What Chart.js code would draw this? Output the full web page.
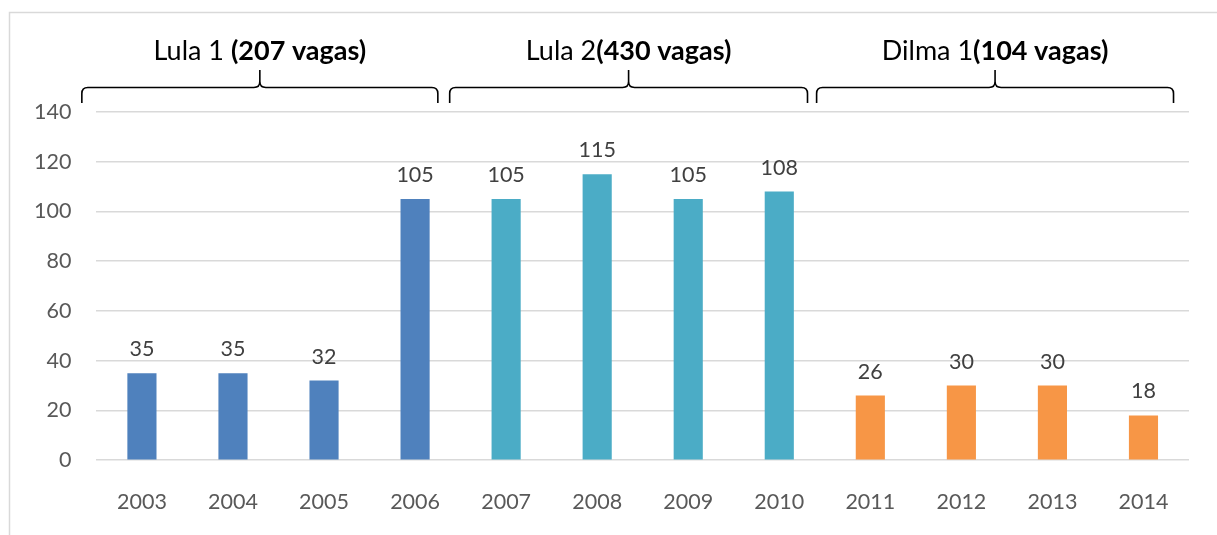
<!DOCTYPE html>
<html>
<head>
<meta charset="utf-8">
<script src="https://cdn.jsdelivr.net/npm/chart.js@4/dist/chart.umd.min.js"></script>
<style>
  body { margin: 0; background: #fff; }
  canvas { display: block; }
</style>
</head>
<body>
<canvas id="chart" width="1217" height="535"></canvas>
<script>
// data
const years = ['2003', '2004', '2005', '2006', '2007', '2008', '2009', '2010', '2011', '2012', '2013', '2014'];
const vagas = [35, 35, 32, 105, 105, 115, 105, 108, 26, 30, 30, 18];
const barColors = ['#4F81BD', '#4F81BD', '#4F81BD', '#4F81BD',
                   '#4BACC6', '#4BACC6', '#4BACC6', '#4BACC6',
                   '#F79646', '#F79646', '#F79646', '#F79646'];
const yTicks = [0, 20, 40, 60, 80, 100, 120, 140];

// mandates shown above the bars (brace spans in category units)
const mandatoNomes = ['Lula 1 ', 'Lula 2', 'Dilma 1'];
const mandatoVagas = ['(207 vagas)', '(430 vagas)', '(104 vagas)'];
const mandatoInicio = [-0.66, 3.38, 7.41];
const mandatoFim = [3.25, 7.31, 11.33];

const FONT = 'Lato, "Open Sans", sans-serif';
const TICK_SIZE = 21.5;

const framePlugin = {
    id: 'frame',
    beforeDraw(chart) {
        const ctx = chart.ctx;
        ctx.save();
        ctx.fillStyle = '#fff';
        ctx.fillRect(0, 0, chart.width, chart.height);
        ctx.strokeStyle = '#d9d9d9';
        ctx.lineWidth = 1.5;
        ctx.beginPath();
        ctx.moveTo(9.5, chart.height);
        ctx.lineTo(9.5, 12.5);
        ctx.lineTo(chart.width, 12.5);
        ctx.stroke();
        ctx.restore();
    }
};

const labelsPlugin = {
    id: 'valueLabels',
    afterDatasetsDraw(chart) {
        const ctx = chart.ctx;
        const meta = chart.getDatasetMeta(0);
        ctx.save();
        ctx.font = TICK_SIZE + 'px ' + FONT;
        ctx.fillStyle = '#404040';
        ctx.textAlign = 'center';
        ctx.textBaseline = 'alphabetic';
        meta.data.forEach((bar, i) => {
            ctx.fillText(String(vagas[i]), bar.x, bar.y - 17);
        });
        ctx.restore();
    }
};

const bracesPlugin = {
    id: 'braces',
    afterDraw(chart) {
        const ctx = chart.ctx;
        const xs = chart.scales.x;
        const yLine = 87.5, yEnd = 103, yTip = 70, r = 6;
        ctx.save();
        ctx.strokeStyle = '#000';
        ctx.lineWidth = 1.6;
        for (let i = 0; i < mandatoNomes.length; i++) {
            const x0 = xs.getPixelForValue(mandatoInicio[i]);
            const x1 = xs.getPixelForValue(mandatoFim[i]);
            const xm = (x0 + x1) / 2;
            ctx.beginPath();
            ctx.moveTo(x0, yEnd);
            ctx.lineTo(x0, yLine + r);
            ctx.quadraticCurveTo(x0, yLine, x0 + r, yLine);
            ctx.lineTo(xm - r, yLine);
            ctx.quadraticCurveTo(xm, yLine, xm, yLine - r);
            ctx.lineTo(xm, yTip);
            ctx.moveTo(xm, yLine - r);
            ctx.quadraticCurveTo(xm, yLine, xm + r, yLine);
            ctx.lineTo(x1 - r, yLine);
            ctx.quadraticCurveTo(x1, yLine, x1, yLine + r);
            ctx.lineTo(x1, yEnd);
            ctx.stroke();

            // label: normal name + bold vacancy count
            const normal = '27px ' + FONT;
            const bold = 'bold 27px ' + FONT;
            ctx.font = normal;
            const w1 = ctx.measureText(mandatoNomes[i]).width;
            ctx.font = bold;
            const w2 = ctx.measureText(mandatoVagas[i]).width;
            const x = xm - (w1 + w2) / 2;
            ctx.fillStyle = '#000';
            ctx.textAlign = 'left';
            ctx.textBaseline = 'alphabetic';
            ctx.font = normal;
            ctx.fillText(mandatoNomes[i], x, 60);
            ctx.font = bold;
            ctx.fillText(mandatoVagas[i], x + w1, 60);
        }
        ctx.restore();
    }
};

new Chart(document.getElementById('chart'), {
    type: 'bar',
    data: {
        labels: years,
        datasets: [{
            data: vagas,
            backgroundColor: barColors,
            borderWidth: 0,
            barPercentage: 0.32,
            categoryPercentage: 1
        }]
    },
    options: {
        responsive: false,
        animation: false,
        layout: { padding: { left: 9, right: 28, top: 112, bottom: -1 } },
        plugins: {
            legend: { display: false },
            tooltip: { enabled: false }
        },
        scales: {
            x: {
                grid: { display: false },
                border: { display: false },
                ticks: { color: '#595959', font: { family: FONT, size: TICK_SIZE }, padding: 21 }
            },
            y: {
                min: 0,
                max: 140,
                afterBuildTicks(axis) { axis.ticks = yTicks.map(v => ({ value: v })); },
                grid: { color: '#d9d9d9', lineWidth: 1.5, drawTicks: false },
                border: { display: false },
                ticks: { color: '#595959', font: { family: FONT, size: TICK_SIZE }, padding: 25 }
            }
        }
    },
    plugins: [framePlugin, labelsPlugin, bracesPlugin]
});
</script>
</body>
</html>
